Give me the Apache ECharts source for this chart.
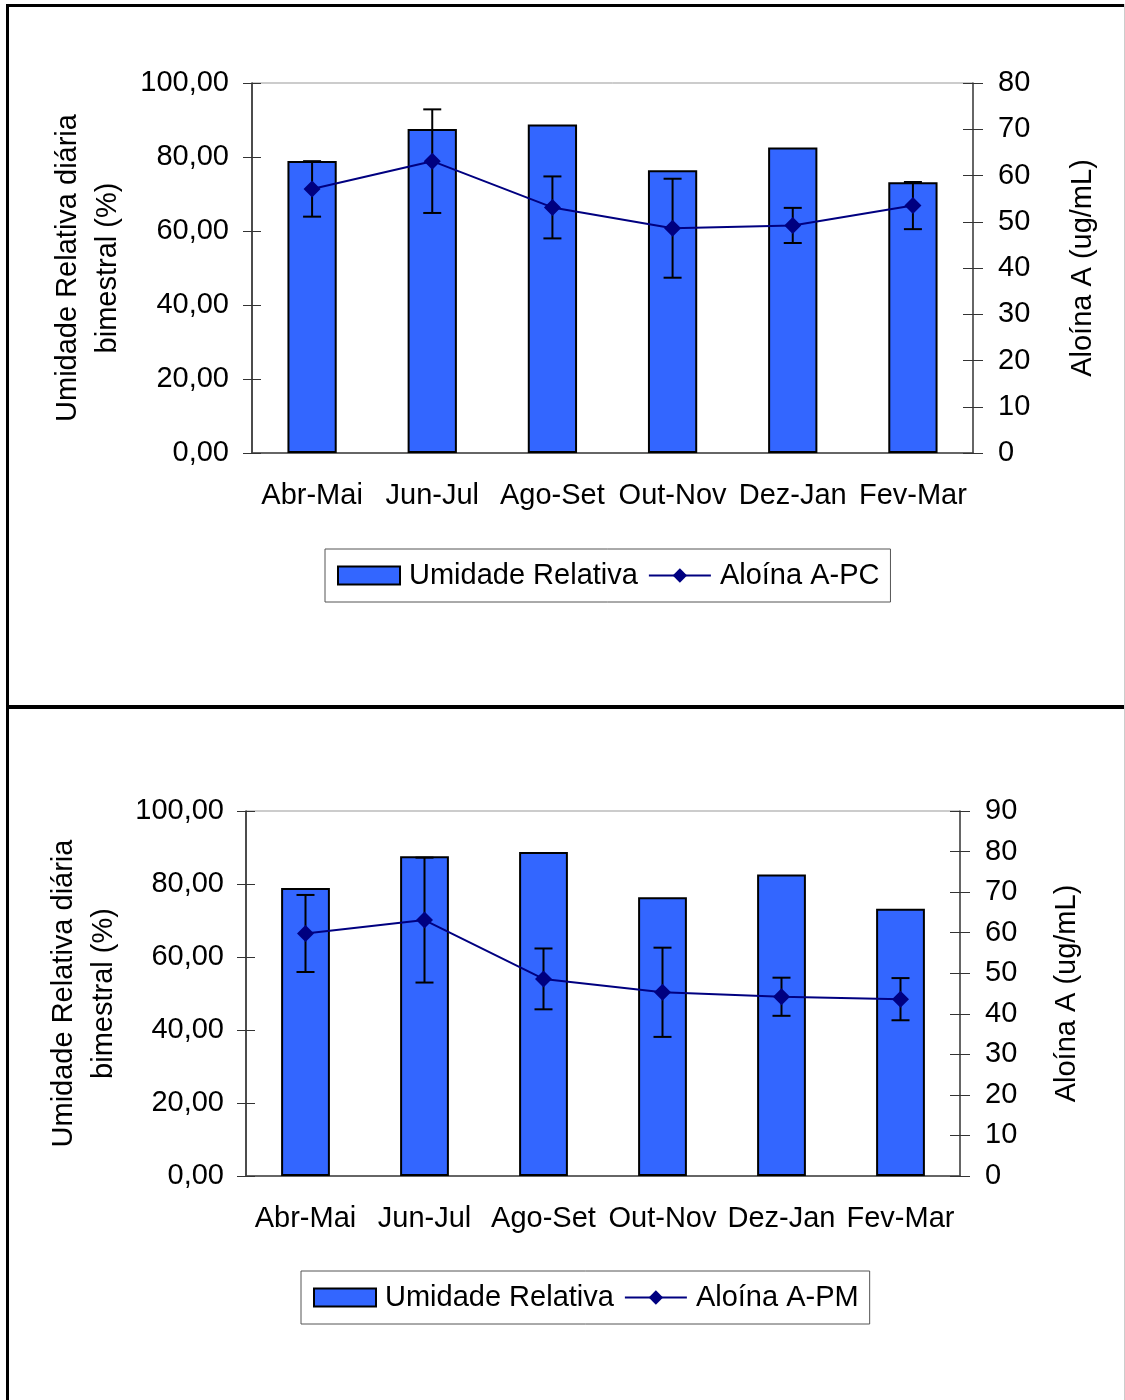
<!DOCTYPE html>
<html>
<head>
<meta charset="utf-8">
<title>Umidade Relativa x Aloína A</title>
<script src="https://cdn.jsdelivr.net/npm/echarts@6/dist/echarts.min.js"></script>
<style>
  html, body { margin: 0; padding: 0; background: #fff; }
  #chart { width: 1125px; height: 1400px; }
</style>
</head>
<body>
<div id="chart"></div>
<script>
// ============ 数据 ============
const periods = ['Abr-Mai', 'Jun-Jul', 'Ago-Set', 'Out-Nov', 'Dez-Jan', 'Fev-Mar']
const humidity = [78.9, 87.6, 88.8, 76.4, 82.6, 73.2]

const aloinPC = [57.1, 63.1, 53.1, 48.6, 49.2, 53.5]
const aloinPCErr = [6.0, 11.2, 6.7, 10.7, 3.8, 5.1]

const aloinPM = [59.8, 63.1, 48.6, 45.3, 44.2, 43.6]
const aloinPMErr = [9.5, 15.4, 7.5, 11.0, 4.7, 5.2]

const FONT = "'Liberation Sans', Arial, sans-serif"
const FS = 29

// error bar (custom series)
const renderErr = (params, api) => {
  const x = api.value(0)
  const lo = api.coord([x, api.value(1)])
  const hi = api.coord([x, api.value(2)])
  const cap = 9
  const style = { stroke: '#000', lineWidth: 2 }
  return {
    type: 'group',
    children: [
      { type: 'line', shape: { x1: lo[0], y1: lo[1], x2: hi[0], y2: hi[1] }, style },
      { type: 'line', shape: { x1: lo[0] - cap, y1: lo[1], x2: lo[0] + cap, y2: lo[1] }, style },
      { type: 'line', shape: { x1: hi[0] - cap, y1: hi[1], x2: hi[0] + cap, y2: hi[1] }, style }
    ]
  }
}

// one panel = grid + 2 x axes + 4 y axes + 3 series + legend
const makePanel = (p, cfg) => {
  const xi = p * 2
  const yi = p * 4
  const grid = {
    left: cfg.grid.left, top: cfg.grid.top, width: cfg.grid.width, height: cfg.grid.height,
    show: true, borderColor: '#999', borderWidth: 1, backgroundColor: 'transparent'
  }
  const tickStyle = { color: '#333', width: 1 }
  const xAxis = [
    {
      type: 'category', gridIndex: p, data: periods, position: 'bottom',
      axisLine: { lineStyle: { color: '#444', width: 1.5 } },
      axisTick: { length: 9, lineStyle: tickStyle },
      axisLabel: { color: '#000', fontSize: FS, fontFamily: FONT, margin: 28, interval: 0 }
    },
    {
      type: 'category', gridIndex: p, data: periods, position: 'bottom',
      axisLine: { show: false },
      axisTick: { inside: true, length: 9, lineStyle: tickStyle },
      axisLabel: { show: false }
    }
  ]
  const yAxis = [
    {
      type: 'value', gridIndex: p, position: 'left', min: 0, max: 100, interval: 20,
      name: 'Umidade Relativa diária\nbimestral (%)', nameLocation: 'middle', nameRotate: 90,
      nameGap: cfg.leftGap,
      nameTextStyle: { color: '#000', fontSize: FS, fontFamily: FONT, lineHeight: 40 },
      axisLine: { show: true, lineStyle: { color: '#222', width: 1.5 } },
      axisTick: { show: true, length: 9, lineStyle: tickStyle },
      axisLabel: {
        color: '#000', fontSize: FS, fontFamily: FONT, margin: cfg.leftMargin,
        formatter: (v) => v.toFixed(2).replace('.', ',')
      },
      splitLine: { show: false }
    },
    {
      type: 'value', gridIndex: p, position: 'right', min: 0, max: cfg.rightMax, interval: 10,
      name: 'Aloína A (ug/mL)', nameLocation: 'middle', nameRotate: 90,
      nameGap: cfg.rightGap,
      nameTextStyle: { color: '#000', fontSize: FS, fontFamily: FONT, lineHeight: 34 },
      axisLine: { show: true, lineStyle: { color: '#444', width: 1.5 } },
      axisTick: { show: true, length: 10, lineStyle: tickStyle },
      axisLabel: { color: '#000', fontSize: FS, fontFamily: FONT, margin: 25 },
      splitLine: { show: false }
    },
    {
      type: 'value', gridIndex: p, position: 'left', min: 0, max: 100, interval: 20,
      axisLine: { show: false },
      axisTick: { show: true, inside: true, length: 9, lineStyle: tickStyle },
      axisLabel: { show: false }, splitLine: { show: false }
    },
    {
      type: 'value', gridIndex: p, position: 'right', min: 0, max: cfg.rightMax, interval: 10,
      axisLine: { show: false },
      axisTick: { show: true, inside: true, length: 10, lineStyle: tickStyle },
      axisLabel: { show: false }, splitLine: { show: false }
    }
  ]
  const series = [
    {
      name: 'Umidade Relativa', type: 'bar', xAxisIndex: xi, yAxisIndex: yi,
      data: humidity, barWidth: '41%',
      itemStyle: { color: '#3366FF', borderColor: '#000', borderWidth: 2 },
      z: 2
    },
    {
      name: cfg.lineName + '-err', type: 'custom', xAxisIndex: xi, yAxisIndex: yi + 1,
      renderItem: renderErr,
      encode: { x: 0, y: [1, 2] },
      data: cfg.mean.map((m, i) => [i, m - cfg.err[i], m + cfg.err[i]]),
      z: 3
    },
    {
      name: cfg.lineName, type: 'line', xAxisIndex: xi, yAxisIndex: yi + 1,
      data: cfg.mean, symbol: 'diamond', symbolSize: 17,
      lineStyle: { color: '#000080', width: 2 },
      itemStyle: { color: '#000080' },
      z: 4
    }
  ]
  const legend = {
    left: cfg.legend.left, top: cfg.legend.top,
    orient: 'horizontal',
    data: [{ name: 'Umidade Relativa', icon: 'rect' }, { name: cfg.lineName }],
    itemWidth: 62, itemHeight: 18, itemGap: 10,
    padding: [12, 11, 12, 12],
    borderColor: '#555', borderWidth: 1,
    textStyle: { color: '#000', fontSize: FS, fontFamily: FONT, padding: [0, 0, 0, 4] },
    selectedMode: false
  }
  return { grid, xAxis, yAxis, series, legend }
}

const panels = [
  makePanel(0, {
    grid: { left: 252, top: 83, width: 721, height: 370 },
    rightMax: 80, leftGap: 124, leftMargin: 23, rightGap: 93,
    lineName: 'Aloína A-PC', mean: aloinPC, err: aloinPCErr,
    legend: { left: 325, top: 549 }
  }),
  makePanel(1, {
    grid: { left: 246, top: 811, width: 714, height: 365 },
    rightMax: 90, leftGap: 122, leftMargin: 22, rightGap: 90,
    lineName: 'Aloína A-PM', mean: aloinPM, err: aloinPMErr,
    legend: { left: 301, top: 1271 }
  })
]

const chart = echarts.init(document.getElementById('chart'), null, { renderer: 'canvas' })
chart.setOption({
  animation: false,
  backgroundColor: '#fff',
  textStyle: { fontFamily: FONT },
  grid: panels.map((p) => p.grid),
  xAxis: panels.flatMap((p) => p.xAxis),
  yAxis: panels.flatMap((p) => p.yAxis),
  series: panels.flatMap((p) => p.series),
  legend: panels.map((p) => p.legend),
  graphic: [
    // outer frames
    { type: 'line', shape: { x1: 6, y1: 5.5, x2: 1125, y2: 5.5 }, style: { stroke: '#000', lineWidth: 3 } },
    { type: 'line', shape: { x1: 7.5, y1: 4, x2: 7.5, y2: 1400 }, style: { stroke: '#000', lineWidth: 3 } },
    { type: 'line', shape: { x1: 6, y1: 707, x2: 1125, y2: 707 }, style: { stroke: '#000', lineWidth: 4 } },
    { type: 'line', shape: { x1: 1124.5, y1: 4, x2: 1124.5, y2: 1400 }, style: { stroke: '#ccc', lineWidth: 1 } }
  ]
})
</script>
</body>
</html>
